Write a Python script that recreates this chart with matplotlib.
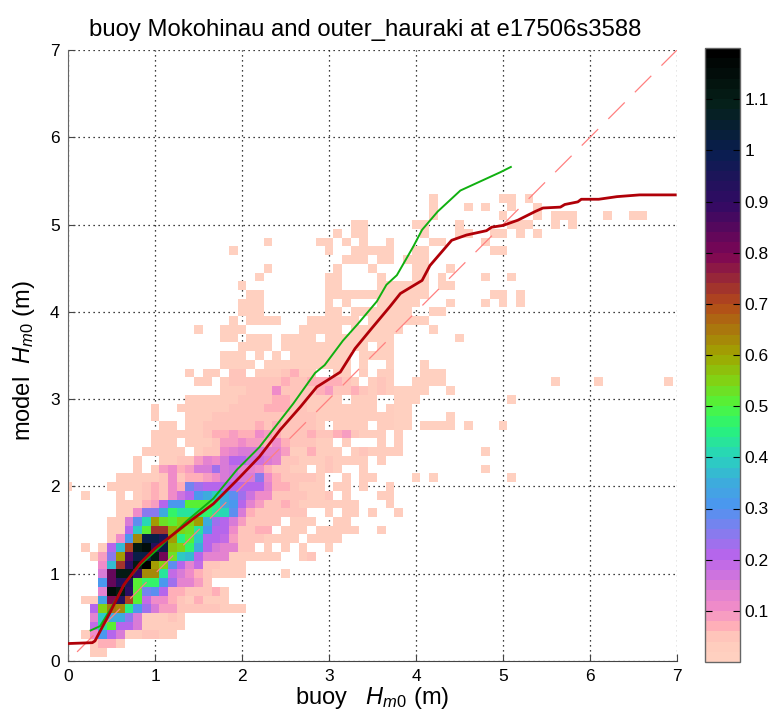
import matplotlib
matplotlib.use("Agg")
import matplotlib.pyplot as plt
import numpy as np
from matplotlib.colors import LinearSegmentedColormap

plt.rcParams['font.family'] = ['Liberation Sans', 'DejaVu Sans']
plt.rcParams['mathtext.fontset'] = 'custom'
plt.rcParams['mathtext.it'] = 'Liberation Sans:italic'
plt.rcParams['mathtext.rm'] = 'Liberation Sans'

# histogram rows: model bin -> (first buoy bin, values)
# bins are 0.1 m wide and centred on multiples of 0.1
hist_rows = {
    1: (3, [.02, .02]),
    2: (3, [.03, .06, .07, .02]),
    3: (2, [.02, .1, .3, .2, .14, .03, .03, .05, .04, .02, .02]),
    4: (3, [.18, .42, .5, .2, .2, .15, .02, .02, .02, .02, .02]),
    5: (3, [.13, .38, .35, .35, .25, .14, .03, .03, .03, .05, .03]),
    6: (3, [.2, .55, .65, .62, .45, .3, .22, .15, .08, .08, .05, .04, .04, .04, .05, .03, .02, .02]),
    7: (2, [.02, .02, .32, .78, .92, .7, .5, .18, .1, .1, .07, .05, .03, .06, .03, .03, .03]),
    8: (4, [.13, 1.15, 1.1, .9, .5, .27, .28, .2, .07, .06, .05, .05, .04, .06, .03]),
    9: (4, [.3, .82, .92, .95, .5, .47, .47, .3, .22, .12, .12, .08, .04]),
    10: (4, [.15, .82, 1.1, 1.1, .88, .62, .62, .42, .18, .15, .1, .06, .04, .03, .03, .03, .02]),
    11: (4, [.1, .36, .72, .9, 1.1, 1.18, .6, .55, .28, .2, .13, .18, .05, .04, .03, .03, .03]),
    12: (3, [.02, .08, .25, .6, .85, 1.0, 1.0, 1.1, .8, .52, .38, .37, .2, .12, .12, .13, .03, .03,
             .03, .02, .02, .02, 0, 0, .02, .05]),
    13: (2, [.02, 0, .02, .2, .37, .7, 1.1, 1.15, .92, 1.0, .57, .55, .47, .35, .2, .15, .13, .13,
             .05, .05, 0, .03, 0, .03, 0, .03, 0, 0, .03]),
    14: (5, [.02, .1, .3, .63, 1.0, 1.0, .95, .6, .45, .5, .38, .2, .2, .18, .08, .05, .05, .05,
             .02, .02, .02, .02, 0, .02, .02, .02, .02]),
    15: (5, [.02, .02, .2, .38, .5, .72, .72, .58, .55, .52, .42, .3, .2, .2, .1, .05, .05, .06,
             .06, 0, .02, .02, .02, 0, .02, .02, .02, .02, .02, 0, 0, .02]),
    16: (5, [.02, .03, .15, .28, .4, .6, .52, .5, .55, .55, .6, .35, .22, .2, .14, .08, .05, .05,
             .04, .05, 0, .02, .02, .02, 0, 0, .02, .02]),
    17: (6, [.02, .02, .1, .25, .25, .35, .47, .42, .42, .45, .47, .42, .4, .28, .15, .07, .05,
             .05, .04, .04, .04, .04, 0, 0, .02, 0, .02, .02, 0, .02, 0, 0, .02]),
    18: (6, [.02, .02, .03, .06, .08, .2, .3, .3, .5, .5, .5, .45, .35, .3, .2, .12, .08, .05,
             .05, .07, .04, .02, .02, .02, .02, .02, .02, .02, 0, 0, 0, .02]),
    19: (6, [.02, 0, .02, .05, .06, .05, .1, .17, .2, .3, .34, .38, .34, .28, .22, .17, .1, .1,
             .05, .05, .05, .05, .03, .03, .05, 0, .02, 0, 0, 0, .02, .02]),
    20: (5, [.02, .02, .02, .03, .05, .06, .05, .1, .06, .27, .23, .2, .2, .2, .2, .2, .2, .2,
             .13, .06, .07, .05, .03, .03, .02, 0, .02, .02, 0, .02, 0, 0, .02]),
    21: (6, [.02, .02, .02, .03, .03, .05, .1, .05, .07, .07, .08, .1, .15, .17, .15, .14, .25,
             .1, .07, .05, .05, .05, .05, .02, 0, 0, .02, 0, .02, .02]),
    22: (8, [.02, 0, .02, .08, .1, .07, .08, .14, .14, .22, .14, .16, .13, .12, .1, .07, .05, .04,
             .03, .03, 0, .02, .04, .03, 0, 0, .02]),
    23: (8, [.02, 0, 0, .03, .03, .04, .04, .08, .12, .1, .14, .2, .2, .16, .16, .14, .12, .05,
             .04, .03, .03, .03, .04, .03, .03, .03, .02, 0, .02]),
    24: (9, [.02, .02, .02, .02, .02, 0, .03, .05, .05, .1, .13, .15, .14, .14, .12, .12, .08,
             .03, .03, .06, .03, .03, .02, 0, .03, .05, .02, .02, .02, .02]),
    25: (10, [.02, .02, .02, 0, .02, .03, .03, .05, .08, .09, .1, .08, .08, .07, .1, .06, .05,
              .04, .04, .03, .03, 0, .03, 0, 0, 0, .02, 0, .02]),
    26: (10, [.02, .02, .02, .02, .03, .03, .05, .07, .07, .08, .07, .06, .1, .08, .06, .05, .05,
              .05, .07, .04, .05, .07, .08, .05, .03, .03, .02, 0, .02]),
    27: (11, [.02, .02, 0, .03, .03, .04, .04, .04, .05, .05, .05, .06, .05, .06, .05, .04, .04,
              .04, .03, 0, .03, .03, .03, .03, 0, .03, .02, .02]),
    28: (10, [.02, 0, 0, 0, .03, .03, .03, .04, .04, .04, .05, .05, .05, .05, .05, .05, .05, .05,
              .04, .03, .02, .02, .02, .02, .02, .02, .02, .03, .02]),
    29: (10, [.02, 0, 0, .02, .03, .03, .03, .03, .03, .04, .05, .04, .05, .06, .06, .07, .05,
              .04, .03, .03, .03, .03, .03, .03, .03, .03, 0, .02, .02]),
    30: (14, [.02, .02, .03, .03, .03, .03, .04, .04, .04, .05, .07, .07, .05, .04, .03, .03, .03,
              .02, 0, .03, .03, .02]),
    31: (18, [.02, .03, .03, .04, .05, .05, .1, .05, .04, .05, .05, .07, .09, .05, .05, .07, .04,
              .03, .05, .03]),
    32: (15, [.02, .02, 0, .03, .04, .05, .05, .05, .05, .05, .07, .05, .05, .07, .07, .07, .07,
              .05, .03, 0, .03, .05, .02]),
    33: (14, [.02, 0, .02, .02, 0, .04, .04, 0, .03, .03, .03, .05, .06, .03, .03, 0, 0, .03, .03,
              0, .02, 0, .02, .02]),
}

# scattered low count cells: model bin -> buoy bins, all in the lightest colour
sparse_cells = {
    10: [25],
    13: [30],
    19: [2],
    20: [0],
    21: [40, 42, 51],
    22: [48],
    24: [48],
    27: [38, 39, 41, 42, 43, 44, 46, 50],
    28: [38, 39, 44],
    29: [38, 39],
    30: [38, 39, 40, 51],
    31: [38, 39, 40, 41, 44],
    32: [40, 41, 42, 43, 56, 61, 69],
    33: [41, 42, 43],
    34: [18, 19, 20, 21, 23, 24, 25, 26, 27, 28, 29, 30, 31, 32, 34, 37, 41],
    35: [18, 19, 20, 22, 24, 26, 27, 28, 29, 30, 31, 32, 34, 35, 36, 37],
    36: [20, 21, 22, 23, 25, 26, 27, 28, 29, 30, 31, 32, 33, 34, 36, 37],
    37: [18, 19, 21, 22, 23, 25, 26, 27, 28, 30, 31, 32, 33, 34, 35, 36, 37, 45],
    38: [15, 18, 19, 20, 27, 28, 29, 30, 31, 33, 34, 35, 36, 37, 38, 42],
    39: [19, 21, 22, 23, 24, 28, 29, 30, 31, 32, 33, 35, 36, 37, 38, 39, 40, 41],
    40: [20, 21, 22, 30, 31, 33, 34, 35, 36, 37, 38, 39, 42, 43],
    41: [20, 21, 22, 30, 32, 36, 37, 38, 39, 40, 44, 48, 50, 52],
    42: [21, 22, 30, 31, 32, 33, 34, 35, 36, 37, 38, 39, 40, 41, 49, 50, 52],
    43: [20, 30, 31, 36, 37, 38, 39, 40, 41, 43, 44],
    44: [22, 30, 31, 36, 40, 41, 43, 48, 51],
    45: [23, 31, 35, 40, 41, 44],
    46: [32, 33, 34, 36, 37, 39, 40, 41],
    47: [19, 30, 33, 34, 35, 36, 37, 40, 41, 49, 50],
    48: [23, 29, 30, 32, 34, 37, 42, 43, 48],
    49: [31, 33, 34, 41, 45, 46, 49, 50, 52, 54],
    50: [33, 34, 40, 41, 45, 51, 52, 53, 56, 58],
    51: [42, 50, 54, 56, 57, 58, 62, 65, 66],
    52: [42, 46, 48, 51, 54],
    53: [42, 50, 51, 53],
}
sparse_value = 0.01

# quantile curves
red_x = [0, 0.28, 0.31, 0.48, 0.64, 0.83, 1.0, 1.17, 1.44, 1.67, 1.94, 2.2, 2.44, 2.67, 2.86, 3.13,
         3.30, 3.49, 3.70, 3.82, 4.07, 4.16, 4.41, 4.58, 4.81, 4.87, 5.0, 5.17, 5.37, 5.46, 5.66,
         5.71, 5.86, 5.9, 6.1, 6.31, 6.57, 6.98]
red_y = [0.2, 0.21, 0.23, 0.55, 0.87, 1.12, 1.29, 1.42, 1.63, 1.8, 2.07, 2.34, 2.65, 2.91, 3.14, 3.31,
         3.58, 3.81, 4.06, 4.21, 4.36, 4.53, 4.82, 4.88, 4.93, 4.97, 4.99, 5.05, 5.15, 5.19, 5.2,
         5.23, 5.26, 5.29, 5.29, 5.32, 5.34, 5.34]
green_x = [0.26, 0.37, 0.48, 0.67, 0.83, 1.06, 1.36, 1.67, 1.94, 2.2, 2.59, 2.84, 2.95, 3.16, 3.33,
           3.55, 3.66, 3.78, 3.97, 4.07, 4.25, 4.51, 4.97, 5.09]
green_y = [0.35, 0.40, 0.58, 0.91, 1.10, 1.31, 1.6, 1.86, 2.19, 2.45, 2.95, 3.3, 3.39, 3.67, 3.86,
           4.12, 4.31, 4.42, 4.75, 4.94, 5.15, 5.39, 5.6, 5.66]

cbar_ticks = [0.1, 0.2, 0.3, 0.4, 0.5, 0.6, 0.7, 0.8, 0.9, 1, 1.1]
cbar_labels = ['0.1', '0.2', '0.3', '0.4', '0.5', '0.6', '0.7', '0.8', '0.9', '1', '1.1']

# colormap stops (value / 1.2, colour)
cmap_stops = [(0.0, '#ffd0c0'), (0.03, '#ffcabc'), (0.05, '#ffb0b8'), (0.083, '#f08cc8'),
              (0.167, '#b864ec'), (0.25, '#4c96f0'), (0.29, '#3cacdc'), (0.333, '#28d4bc'),
              (0.38, '#28f478'), (0.417, '#50f53c'), (0.458, '#82d214'), (0.5, '#a0a500'),
              (0.583, '#b44b19'), (0.667, '#7d0555'), (0.75, '#320a64'), (0.833, '#0a1e50'),
              (0.917, '#052019'), (1.0, '#000000')]
cmap = LinearSegmentedColormap.from_list('hist', cmap_stops, N=60)

# build the grid
counts = np.full((71, 71), np.nan)
for j, (start, values) in hist_rows.items():
    for k, v in enumerate(values):
        if v > 0:
            counts[j, start + k] = v
for j, cols in sparse_cells.items():
    for i in cols:
        counts[j, i] = sparse_value

centres = np.arange(71) * 0.1

W, H = 769, 720
fig = plt.figure(figsize=(W / 100, H / 100), dpi=100)
ax = fig.add_axes([68 / W, (H - 661) / H, 609 / W, 611 / H])

ax.set_axisbelow(True)
ax.grid(True, color='black', linestyle=(0, (1, 3)), linewidth=0.9)
mesh = ax.pcolormesh(centres, centres, counts, cmap=cmap, vmin=0, vmax=1.2, shading='nearest',
                     antialiased=False, zorder=2)
ax.plot([0, 7], [0, 7], color='#ff8080', linewidth=0.9, linestyle=(19.8, (18.6, 11.5)), zorder=3)
ax.plot(green_x, green_y, color='#10b010', linewidth=1.4, zorder=4)
ax.plot(red_x, red_y, color='#b00008', linewidth=2.0, zorder=5)

ax.set_xlim(0, 7)
ax.set_ylim(0, 7)
ax.set_xticks(range(8))
ax.set_yticks(range(8))
ax.tick_params(direction='in', length=5, width=0.8, labelsize=12.5, color='#444444', pad=6)
ax.spines['top'].set_visible(False)
ax.spines['right'].set_visible(False)
ax.spines['left'].set_color('#666666')
ax.spines['bottom'].set_color('#444444')

fig.text(365.5 / W, 1 - 30 / H, 'buoy Mokohinau and outer_hauraki at e17506s3588', fontsize=17.2,
         ha='center', va='center')
fig.text(372 / W, 1 - 698 / H, r'buoy   $H_{m0}$ (m)', fontsize=17, ha='center', va='center')
fig.text(24 / W, 1 - 361 / H, r'model  $H_{m0}$ (m)', fontsize=17, ha='center', va='center',
         rotation=90)

# colour bar
cax = fig.add_axes([704.5 / W, (H - 662) / H, 35.5 / W, 614 / H])
cbar = fig.colorbar(mesh, cax=cax)
cbar.set_ticks(cbar_ticks)
cbar.set_ticklabels(cbar_labels)
cbar.minorticks_off()
cax.tick_params(direction='in', length=5, width=0.8, left=True, right=True, labelsize=12.5, pad=3)
cbar.outline.set_edgecolor('#666666')
cbar.outline.set_linewidth(1.0)

fig.savefig('out.png', dpi=100)
